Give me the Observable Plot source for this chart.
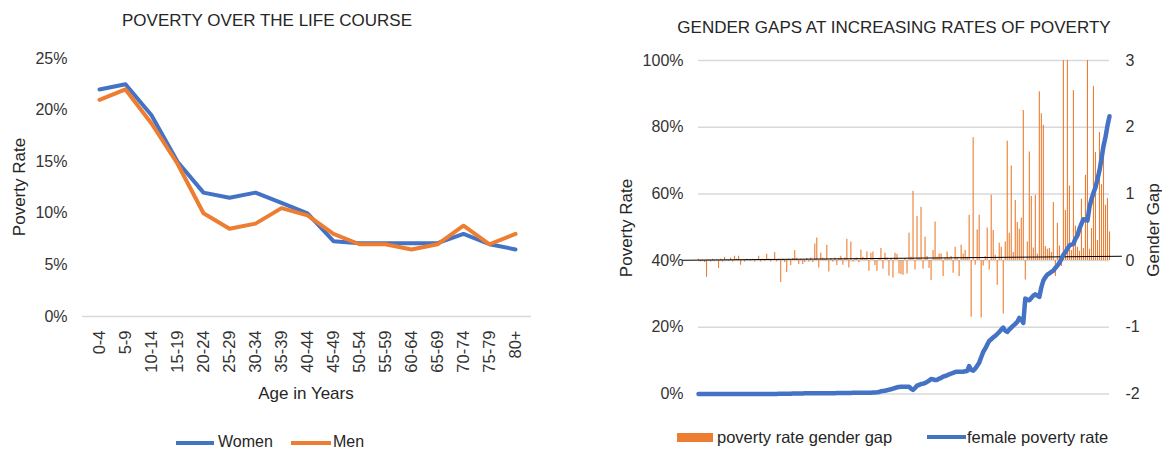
<!DOCTYPE html>
<html><head><meta charset="utf-8">
<script src="https://cdn.jsdelivr.net/npm/d3@7"></script>
<script src="https://cdn.jsdelivr.net/npm/@observablehq/plot@0.6"></script>
<style>
body{margin:0;background:#fff;font-family:"Liberation Sans",Arial,sans-serif;color:#262626}
#wrap{position:relative;width:1162px;height:451px;overflow:hidden}
#wrap svg{position:absolute;top:0}
.abs{position:absolute;white-space:nowrap;line-height:1.1}
.c{transform:translate(-50%,-50%)}
.rot{transform:translate(-50%,-50%) rotate(-90deg)}
.lv{transform:translate(0,-50%)}
</style></head><body><div id="wrap"></div>
<script>
// ---- Left chart data ----
const ageGroups = ["0-4","5-9","10-14","15-19","20-24","25-29","30-34","35-39","40-44","45-49","50-54","55-59","60-64","65-69","70-74","75-79","80+"];
const women = [22.0,22.5,19.5,15.0,12.0,11.5,12.0,11.0,10.0,7.3,7.1,7.1,7.1,7.1,8.0,7.0,6.5];
const men   = [21.0,22.0,18.7,14.8,10.0,8.5,9.0,10.5,9.8,8.0,7.0,7.0,6.5,7.0,8.8,7.0,8.0];
const leftTicks = [0,5,10,15,20,25];

// ---- Right chart data ----
const femalePovertyRate = [
 0,0,0,0,0,0,0,0,0,0, 0,0,0,0,0,0,0,0,0,0,
 0,0,0,0,0,0,0,0,0,0, 0,0,0,0,0,0,0,0,0,0,
 0.05,
 0.1,0.1,0.1,0.1,0.1,0.1,0.15,0.15,0.15,0.15,
 0.15,0.15,0.2,0.2,0.2,0.2,0.2,0.2,0.2,0.2,
 0.2,0.2,0.25,0.25,0.25,0.25,0.25,0.25,0.3,0.3,
 0.3,0.3,0.3,0.3,0.3,0.3,0.35,0.35,0.35,0.35,
 0.35,0.4,0.4,0.4,0.4,0.4,0.45,0.45,0.5,0.6,
 0.8,0.9,1.0,1.1,1.3,1.4,1.6,1.8,2.0,2.1,
 2.2,2.2,2.2,2.2,2.2,1.6,1.2,1.8,2.5,2.7,
 3.0,3.1,3.3,3.6,4.0,4.5,4.4,4.2,4.2,4.6,
 4.8,5.2,5.4,5.6,5.9,6.1,6.3,6.6,6.7,6.7,
 6.7,6.7,6.8,6.9,8.4,7.2,7.0,7.6,8.5,9.4,
 11.0,12.6,13.6,14.8,15.9,16.4,17.0,17.4,18.0,18.6,
 19.3,19.9,19.0,18.6,19.3,19.9,20.5,21.0,21.6,22.8,
 22.3,21.3,28.6,28.3,28.1,28.8,29.5,29.9,29.5,29.1,
 32.0,34.0,35.0,35.8,36.2,36.6,37.0,37.8,38.5,39.3,
 40.5,41.8,42.5,43.5,44.5,44.8,45.0,46.5,47.5,49.5,
 51.0,52.4,52.2,52.0,56.0,58.4,60.3,61.9,64.4,67.0,
 70.5,74.3,77.0,80.5,83.3
];
const genderGap = [
 0.02,-0.02,0.01,-0.03,-0.25,0.01,-0.02,0.02,-0.01,0.01,
 -0.12,0.02,-0.02,0.05,0.01,-0.01,0.035,-0.02,0.065,0.02,
 0.065,-0.07,0.01,-0.02,0.02,0.01,-0.01,0.02,-0.02,0.01,
 0.065,-0.02,0.02,-0.01,0.095,0.02,-0.02,0.01,0.12,-0.02,
 0.02,-0.33,0.02,-0.03,-0.18,0.02,-0.075,0.03,0.15,0.035,
 -0.06,0.02,-0.06,-0.03,0.03,-0.02,0.04,-0.03,0.25,0.34,
 -0.11,0.11,0.035,0.02,0.23,-0.17,0.03,-0.02,0.04,-0.075,
 0.03,0.065,-0.07,0.04,0.32,-0.11,0.28,-0.02,0.03,0.04,
 -0.03,0.16,0.05,0.03,0.13,-0.16,0.11,0.13,-0.075,-0.16,
 0.03,0.18,-0.13,0.11,0.04,-0.23,0.03,-0.26,0.11,0.095,
 -0.2,-0.21,-0.22,0.03,-0.2,0.41,0.05,1.04,-0.14,0.66,
 0.04,0.80,-0.13,0.35,0.06,-0.12,-0.3,0.15,0.58,0.05,
 0.1,0.1,-0.24,0.04,0.13,0.03,0.06,-0.19,0.2,0.05,
 -0.24,0.23,0.1,0.15,0.05,0.68,-0.85,1.84,-0.07,0.46,
 0.68,-0.86,-0.08,0.06,0.49,-0.14,0.98,0.45,0.08,-0.37,
 0.26,0.2,-0.8,0.28,1.79,0.41,1.42,0.12,0.9,0.57,
 0.47,0.64,2.25,-0.29,0.28,1.63,0.96,0.19,0.98,0.1,
 2.53,2.2,2.03,0.21,0.17,0.18,0.12,0.87,-0.24,0.56,
 0.22,-0.09,3.0,0.75,3.0,1.12,0.15,2.55,0.52,0.2,
 0.14,0.92,0.18,1.28,3.0,0.17,0.48,2.61,1.62,0.3,
 1.92,1.14,1.84,0.83,0.93,0.43
];
const rateTicks = [0,20,40,60,80,100];
const gapTicks = [-2,-1,0,1,2,3];
const trendX = [-8, 211];
const trendGap = [0.005, 0.065];

const BLUE = "#4472C4", ORANGE = "#ED7D31";
const FONT = '"Liberation Sans", Arial, sans-serif';
const wrap = document.getElementById("wrap");

// left chart
const lineRows = [];
ageGroups.forEach((a,i)=>{ lineRows.push({age:a, v:women[i], s:"Women"}); });
ageGroups.forEach((a,i)=>{ lineRows.push({age:a, v:men[i], s:"Men"}); });

const left = Plot.plot({
  width: 560, height: 451,
  marginLeft: 82, marginRight: 29, marginTop: 58, marginBottom: 135,
  style: {fontFamily: FONT, fontSize: "16px", color: "#333", background: "transparent", overflow: "visible"},
  x: {type: "point", domain: ageGroups, padding: 0.5, label: null},
  y: {domain: [0, 25], label: null},
  marks: [
    Plot.ruleY([0], {stroke: "#d9d9d9", strokeWidth: 1.5}),
    Plot.axisY({ticks: leftTicks, tickFormat: d => d + "%", tickSize: 0, tickPadding: 15, label: null}),
    Plot.axisX({tickRotate: -90, tickSize: 0, tickPadding: 14, label: null, fontSize: 16.5}),
    Plot.line(lineRows.filter(d=>d.s==="Women"), {x: "age", y: "v", stroke: BLUE, strokeWidth: 4, strokeLinejoin: "round"}),
    Plot.line(lineRows.filter(d=>d.s==="Men"), {x: "age", y: "v", stroke: ORANGE, strokeWidth: 4, strokeLinejoin: "round"})
  ]
});
left.style.left = "0px";
wrap.appendChild(left);

// right chart
const idx = d3.range(femalePovertyRate.length);
const gapToRate = g => (g + 2) * 20;
const trendRows = trendX.map((x,i)=>({x, y: gapToRate(trendGap[i])}));

const right = Plot.plot({
  width: 562, height: 451,
  marginLeft: 98, marginRight: 53, marginTop: 60, marginBottom: 57.5,
  style: {fontFamily: FONT, fontSize: "16px", color: "#333", background: "transparent", overflow: "visible"},
  x: {domain: [0, femalePovertyRate.length - 1], axis: null},
  y: {domain: [0, 100], label: null},
  marks: [
    Plot.ruleY(rateTicks, {stroke: "#d9d9d9", strokeWidth: 1.5}),
    Plot.ruleX(idx, {x: d => d, y1: gapToRate(0), y2: d => gapToRate(genderGap[d]), stroke: ORANGE, strokeWidth: 1.1}),
    Plot.line(trendRows, {x: "x", y: "y", stroke: "#000", strokeWidth: 1}),
    Plot.line(idx, {x: d => d, y: d => femalePovertyRate[d], stroke: BLUE, strokeWidth: 4.5, strokeLinejoin: "round"}),
    Plot.axisY({anchor: "left", ticks: rateTicks, tickFormat: d => d + "%", tickSize: 0, tickPadding: 15, label: null}),
    Plot.axisY({anchor: "right", ticks: gapTicks.map(gapToRate), tickFormat: d => String(Math.round(d / 20 - 2)), tickSize: 0, tickPadding: 16, label: null})
  ]
});
right.style.left = "600px";
wrap.appendChild(right);

// texts
function addText(txt, x, y, cls, size, extra) {
  const d = document.createElement("div");
  d.className = "abs " + cls;
  d.textContent = txt;
  d.style.left = x + "px"; d.style.top = y + "px";
  d.style.fontSize = size + "px";
  if (extra) Object.assign(d.style, extra);
  wrap.appendChild(d);
}
function addSwatch(x, y, w, h, color) {
  const d = document.createElement("div");
  d.className = "abs";
  Object.assign(d.style, {left: x+"px", top: y+"px", width: w+"px", height: h+"px", background: color});
  wrap.appendChild(d);
}
addText("POVERTY OVER THE LIFE COURSE", 267, 21, "c", 17);
addText("GENDER GAPS AT INCREASING RATES OF POVERTY", 894, 28, "c", 17);
addText("Poverty Rate", 20, 187, "rot", 17);
addText("Age in Years", 306, 394, "c", 17);
addText("Poverty Rate", 627, 228, "rot", 17);
addText("Gender Gap", 1154, 230, "rot", 17);

addSwatch(176, 441, 38, 4, BLUE);
addText("Women", 218, 442, "lv", 16);
addSwatch(291, 441, 40, 4, ORANGE);
addText("Men", 333, 442, "lv", 16);

addSwatch(677, 433, 36, 9, ORANGE);
addText("poverty rate gender gap", 717, 437, "lv", 16.5);
addSwatch(927, 435, 39, 4, BLUE);
addText("female poverty rate", 967, 437, "lv", 16.5);
</script></body></html>
